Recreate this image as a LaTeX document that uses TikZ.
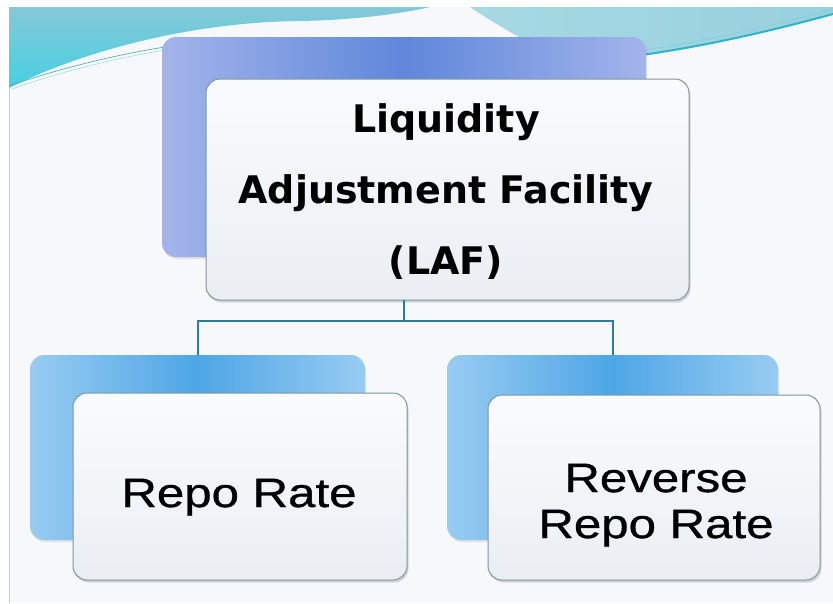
\documentclass[tikz,border=0pt]{standalone}
\usepackage{fontspec}
\newfontfamily\headfont{DejaVu Sans}
\newfontfamily\ratefont[FakeStretch=1.2,FakeBold=0.8]{Liberation Sans}
\usetikzlibrary{shadows,calc}

\definecolor{slidebg}{HTML}{F6F8FA}
\definecolor{framegray}{HTML}{C9CDD1}
\definecolor{bandtop}{HTML}{86C8D7}
\definecolor{bandlow}{HTML}{45D0E2}
\definecolor{bandlight}{HTML}{A6D9E4}
\definecolor{bandedge}{HTML}{2DB3C8}
\definecolor{lafblue}{HTML}{5F87DA}
\definecolor{lafpale}{HTML}{A3B4EA}
\definecolor{skyblue}{HTML}{4EA6E6}
\definecolor{skypale}{HTML}{98CCF1}
\definecolor{cardtop}{HTML}{FAFBFD}
\definecolor{cardlow}{HTML}{EAEEF3}
\definecolor{cardedge}{HTML}{7E96A2}
\definecolor{linkteal}{HTML}{2B7D98}

\begin{document}
\begin{tikzpicture}[x=1pt,y=-1pt,
  boxbase/.style={rounded corners=14pt, inner sep=0pt, outer sep=0pt,
    anchor=north west},
  lafback/.style={boxbase, left color=lafpale, right color=lafpale,
    middle color=lafblue,
    drop shadow={opacity=0.18, shadow xshift=1pt, shadow yshift=-2pt}},
  rateback/.style={boxbase, left color=skypale, right color=skypale,
    middle color=skyblue,
    drop shadow={opacity=0.18, shadow xshift=1pt, shadow yshift=-2pt}},
  card/.style={boxbase, top color=cardtop, bottom color=cardlow,
    draw=cardedge, line width=1pt,
    drop shadow={opacity=0.3, shadow xshift=1.5pt, shadow yshift=-2.5pt}},
  headtext/.style={font=\headfont\bfseries\fontsize{38}{71}\selectfont,
    align=center, anchor=base, inner sep=0pt},
  ratetext/.style={font=\ratefont\fontsize{41}{46}\selectfont,
    align=center, anchor=base, inner sep=0pt},
  link/.style={draw=linkteal, line width=2pt}]

\useasboundingbox (0,0) rectangle (833,603);

% page and slide background
\fill[white] (0,0) rectangle (833,603);
\fill[slidebg] (9,7) rectangle (833,603);
\draw[framegray, line width=1pt] (9,7) -- (9,603);

% cyan wave at the upper left
\shade[top color=bandtop, bottom color=bandlow]
  (9,7) -- (9,88) .. controls (80,52) and (190,22) .. (300,21)
  .. controls (360,20) and (410,12) .. (430,7) -- cycle;
\draw[bandedge!70!gray, line width=0.6pt]
  (9,86) .. controls (60,68) and (120,54) .. (165,47);
\draw[bandedge!50!white, line width=0.5pt]
  (12,89) .. controls (62,71) and (122,57) .. (165,50);

% cyan wave at the upper right
\shade[left color=bandlight, right color=bandtop!85!white]
  (470,7) -- (833,7) -- (833,14) .. controls (760,34) and (680,52) .. (600,60)
  .. controls (560,62) and (520,40) .. (470,7) -- cycle;
\draw[bandedge, line width=2pt]
  (600,60) .. controls (680,52) and (760,34) .. (833,14);
\draw[bandedge!60!white, line width=0.8pt]
  (600,56) .. controls (680,47) and (760,29) .. (833,9);

% top card (text nodes are anchored at the baseline of their last line)
\node[lafback, minimum width=484pt, minimum height=220pt] (lafback) at (162,37) {};
\node[card, minimum width=483pt, minimum height=221pt] (laf) at (206,79) {};
\node[headtext] (laftext) at (446,274)
  {Liquidity\\Adjustment Facility\\(LAF)};

% lower left card
\node[rateback, minimum width=335pt, minimum height=185pt] (repoback) at (30,355) {};
\node[card, minimum width=334pt, minimum height=187pt] (repo) at (73,393) {};
\node[ratetext] (repotext) at (239,507) {Repo Rate};

% lower right card
\node[rateback, minimum width=331pt, minimum height=185pt] (revback) at (447,355) {};
\node[card, minimum width=332pt, minimum height=185pt] (rev) at (488,395) {};
\node[ratetext] (revtext) at (656,538) {Reverse\\Repo Rate};

% connectors
\coordinate (split) at (404,321);
\draw[link] (lafback.south |- laf.south) -- (split);
\draw[link] (repoback.north) |- (split) -| (revback.north);

\end{tikzpicture}
\end{document}
